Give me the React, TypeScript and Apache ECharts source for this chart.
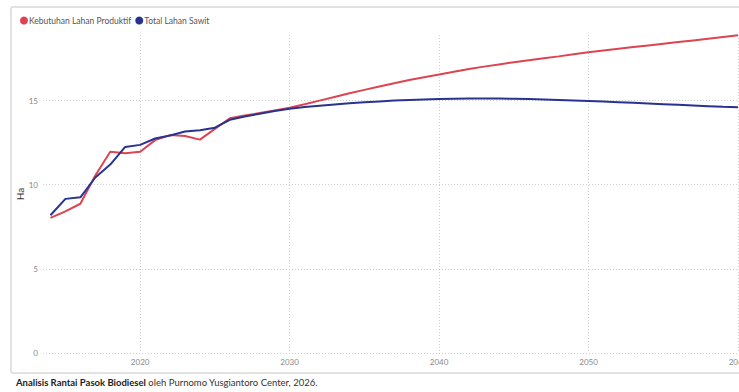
import React, { useEffect, useRef } from "react";
import * as echarts from "echarts";

// Years covered by both series (historical + projection)
const years: number[] = [
  2014, 2015, 2016, 2017, 2018, 2019, 2020, 2021, 2022, 2023, 2024, 2025, 2026,
  2027, 2028, 2029, 2030, 2031, 2032, 2033, 2034, 2035, 2036, 2037, 2038, 2039,
  2040, 2041, 2042, 2043, 2044, 2045, 2046, 2047, 2048, 2049, 2050, 2051, 2052,
  2053, 2054, 2055, 2056, 2057, 2058, 2059, 2060,
];

// Kebutuhan Lahan Produktif (juta Ha)
const kebutuhanLahan: number[] = [
  8.03, 8.42, 8.87, 10.55, 11.96, 11.87, 11.96, 12.65, 12.95, 12.9, 12.68, 13.32,
  13.95, 14.12, 14.26, 14.42, 14.58, 14.78, 15.0, 15.22, 15.44, 15.64, 15.84,
  16.03, 16.22, 16.39, 16.55, 16.72, 16.88, 17.02, 17.15, 17.28, 17.4, 17.52,
  17.63, 17.75, 17.87, 17.98, 18.08, 18.18, 18.28, 18.38, 18.48, 18.58, 18.68,
  18.78, 18.88,
];

// Total Lahan Sawit (juta Ha)
const totalLahanSawit: number[] = [
  8.19, 9.16, 9.25, 10.43, 11.2, 12.25, 12.37, 12.75, 12.93, 13.16, 13.24, 13.39,
  13.86, 14.06, 14.22, 14.38, 14.52, 14.62, 14.7, 14.77, 14.84, 14.9, 14.95,
  15.0, 15.04, 15.07, 15.09, 15.11, 15.12, 15.13, 15.12, 15.11, 15.09, 15.07,
  15.04, 15.01, 14.98, 14.95, 14.91, 14.87, 14.83, 14.79, 14.75, 14.71, 14.67,
  14.63, 14.6,
];

const xTicks: number[] = [2020, 2030, 2040, 2050, 2060];
const yTicks: number[] = [0, 5, 10, 15];

const seriesNames = ["Kebutuhan Lahan Produktif", "Total Lahan Sawit"];
const RED = "#DC4451";
const BLUE = "#28338F";
const FONT = "Lato, 'Open Sans', sans-serif";

export default function App() {
  const ref = useRef<HTMLDivElement>(null);

  useEffect(() => {
    if (!ref.current) return;
    const chart = echarts.init(ref.current, undefined, { renderer: "svg" });

    const pair = (vals: number[]) => years.map((y, i) => [y, vals[i]]);

    chart.setOption({
      animation: false,
      backgroundColor: "#ffffff",
      textStyle: { fontFamily: FONT },
      legend: {
        left: 15,
        top: 11,
        icon: "circle",
        itemWidth: 8,
        itemHeight: 8,
        itemGap: 4,
        textStyle: { fontSize: 8.5, color: "#555555", fontFamily: FONT, padding: [0, 0, 0, -4] },
        data: seriesNames,
      },
      grid: { left: 43, top: 35, right: 27, bottom: 39, containLabel: false },
      xAxis: {
        type: "value",
        min: 2013.5,
        max: 2060,
        axisLine: { show: false },
        axisTick: { show: false, customValues: xTicks },
        axisLabel: {
          customValues: xTicks,
          color: "#888888",
          fontSize: 8,
          margin: 5,
          fontFamily: FONT,
          formatter: (v: number) => String(v),
        },
        splitLine: {
          show: true,
          lineStyle: { color: "#d0d0d0", type: [1, 2], width: 1 },
        },
      },
      yAxis: {
        type: "value",
        min: 0,
        max: 18.9,
        name: "Ha",
        nameLocation: "middle",
        nameGap: 18,
        nameMoveOverlap: false,
        nameTextStyle: { color: "#333333", fontSize: 10, fontFamily: FONT },
        axisLine: { show: false },
        axisTick: { show: false, customValues: yTicks },
        axisLabel: {
          customValues: yTicks,
          color: "#888888",
          fontSize: 8,
          margin: 5,
          fontFamily: FONT,
        },
        splitLine: {
          show: true,
          lineStyle: { color: "#d0d0d0", type: [1, 2], width: 1 },
        },
      },
      series: [
        {
          name: seriesNames[0],
          type: "line",
          data: pair(kebutuhanLahan),
          showSymbol: false,
          color: RED,
          lineStyle: { width: 2, color: RED },
          z: 2,
        },
        {
          name: seriesNames[1],
          type: "line",
          data: pair(totalLahanSawit),
          showSymbol: false,
          color: BLUE,
          lineStyle: { width: 2, color: BLUE },
          z: 3,
        },
      ],
      graphic: [
        {
          type: "rect",
          shape: { x: 11, y: 7, width: 800, height: 366, r: 2 },
          style: { fill: "none", stroke: "#d9d9d9", lineWidth: 1.5 },
          silent: true,
          z: -1,
        },
        {
          type: "text",
          left: 16,
          top: 377,
          style: {
            text: "{b|Analisis Rantai Pasok Biodiesel} oleh Purnomo Yusgiantoro Center, 2026.",
            fill: "#333333",
            font: `9.5px ${FONT}`,
            rich: {
              b: { fontWeight: "bold", fontSize: 9.5, fill: "#222222", fontFamily: FONT },
            },
          },
        },
      ],
    });

    return () => chart.dispose();
  }, []);

  return (
    <div
      style={{
        position: "fixed",
        left: 0,
        top: 0,
        width: 739,
        height: 392,
        overflow: "hidden",
        background: "#ffffff",
      }}
    >
      <div ref={ref} style={{ position: "absolute", left: 0, top: 0, width: 765, height: 392 }} />
    </div>
  );
}
